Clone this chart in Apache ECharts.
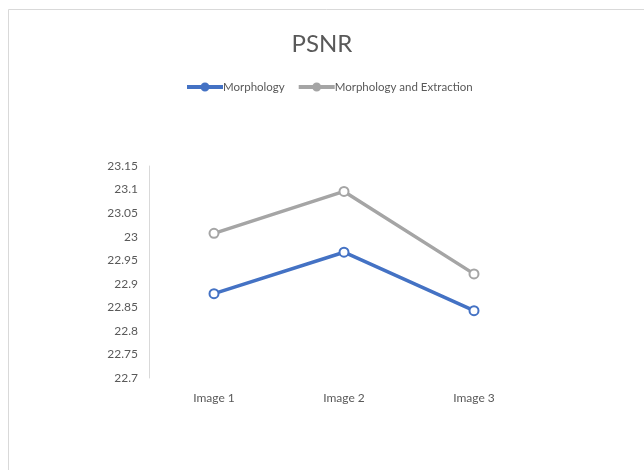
<!DOCTYPE html>
<html><head><meta charset="utf-8">
<script src="https://cdn.jsdelivr.net/npm/echarts@6/dist/echarts.min.js"></script>
<style>html,body{margin:0;padding:0;background:#fff}#c{width:644px;height:470px}</style>
</head><body><div id="c"></div>
<script>
const categories = ['Image 1', 'Image 2', 'Image 3'];
const morphology = [22.879, 22.967, 22.843];
const morphologyExtraction = [23.007, 23.096, 22.921];
const yTicks = { min: 22.7, max: 23.15, interval: 0.05 };

const font = "Lato, 'Open Sans', sans-serif";
const chart = echarts.init(document.getElementById('c'), null, { renderer: 'canvas' });
chart.setOption({
  backgroundColor: '#fff',
  animation: false,
  graphic: [{
    type: 'rect', shape: { x: 8.5, y: 9.5, width: 700, height: 500 },
    style: { fill: 'none', stroke: '#d9d9d9', lineWidth: 1 }, z: -1
  }],
  title: {
    text: 'PSNR', left: 'center', top: 27, padding: [5, 0, 5, 8],
    textStyle: { fontFamily: font, fontSize: 24, fontWeight: 'normal', color: '#595959' }
  },
  legend: {
    top: 76, left: 182, itemGap: 14, itemWidth: 34, itemHeight: 10,
    textStyle: { fontFamily: font, fontSize: 11.5, color: '#595959', padding: [0, 0, 0, -4] },
    data: [
      { name: 'Morphology', icon: 'path://M0,4.1H34V5.9H0Z M17,1.5A3.5,3.5 0 1,1 16.99,1.5Z' },
      { name: 'Morphology and Extraction', icon: 'path://M0,4.1H34V5.9H0Z M17,1.5A3.5,3.5 0 1,1 16.99,1.5Z' }
    ]
  },
  grid: { left: 149, right: 105, top: 166, bottom: 92 },
  xAxis: {
    type: 'category', data: categories, boundaryGap: true,
    axisLine: { show: false }, axisTick: { show: false },
    axisLabel: { fontFamily: font, fontSize: 12, color: '#595959', margin: 14 }
  },
  yAxis: {
    type: 'value', min: yTicks.min, max: yTicks.max, interval: yTicks.interval,
    axisLine: { show: true, lineStyle: { color: '#d9d9d9' } },
    axisTick: { show: false }, splitLine: { show: false },
    axisLabel: { fontFamily: font, fontSize: 12, color: '#595959', margin: 11,
      formatter: v => String(Math.round(v * 100) / 100) }
  },
  series: [
    { name: 'Morphology', type: 'line', data: morphology,
      symbol: 'emptyCircle', symbolSize: 9,
      lineStyle: { color: '#4472c4', width: 3.5 },
      itemStyle: { color: '#4472c4', borderColor: '#4472c4', borderWidth: 2.5 } },
    { name: 'Morphology and Extraction', type: 'line', data: morphologyExtraction,
      symbol: 'emptyCircle', symbolSize: 9,
      lineStyle: { color: '#a5a5a5', width: 3.5 },
      itemStyle: { color: '#a5a5a5', borderColor: '#a5a5a5', borderWidth: 2.5 } }
  ]
});
</script></body></html>
